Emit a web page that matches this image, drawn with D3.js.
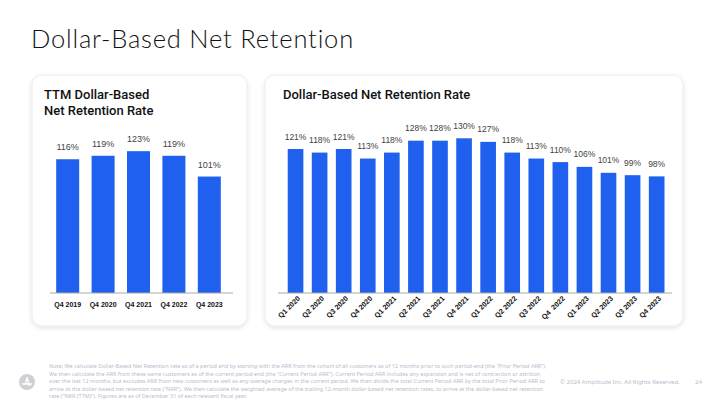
<!DOCTYPE html>
<html><head><meta charset="utf-8">
<script src="https://cdn.jsdelivr.net/npm/d3@7"></script>
<style>
html,body{margin:0;padding:0;background:#fff;}
svg{display:block;}
</style></head>
<body>
<svg id="c" width="720" height="405"></svg>
<script>
// ---- data ----
const ttmCategories = ["Q4 2019","Q4 2020","Q4 2021","Q4 2022","Q4 2023"];
const ttmValues = [116,119,123,119,101];
const qCategories = ["Q1 2020","Q2 2020","Q3 2020","Q4 2020","Q1 2021","Q2 2021","Q3 2021","Q4 2021","Q1 2022","Q2 2022","Q3 2022","Q4  2022","Q1 2023","Q2 2023","Q3 2023","Q4 2023"];
const qValues = [121,118,121,113,118,128,128,130,127,118,113,110,106,101,99,98];
const footnoteLines = [
 "Note: We calculate Dollar-Based Net Retention rate as of a period end by starting with the ARR from the cohort of all customers as of 12 months prior to such period-end (the \u201cPrior Period ARR\u201d).",
 "We then calculate the ARR from these same customers as of the current period-end (the \u201cCurrent Period ARR\u201d). Current Period ARR includes any expansion and is net of contraction or attrition",
 "over the last 12 months, but excludes ARR from new customers as well as any overage charges in the current period. We then divide the total Current Period ARR by the total Prior Period ARR to",
 "arrive at the dollar-based net retention rate (\u201cNRR\u201d). We then calculate the weighted average of the trailing 12-month dollar-based net retention rates, to arrive at the dollar-based net retention",
 "rate (\u201cNRR (TTM)\u201d). Figures are as of December 31 of each relevant fiscal year."
];

const svg = d3.select("#c");
const BLUE = "#1f61ee";

const defs = svg.append("defs");
const f = defs.append("filter").attr("id","sh").attr("x","-10%").attr("y","-10%").attr("width","120%").attr("height","120%");
f.append("feDropShadow").attr("dx",0).attr("dy",1.5).attr("stdDeviation",2).attr("flood-color","#000").attr("flood-opacity",0.12);

// title
svg.append("text").attr("x",31).attr("y",48)
  .attr("font-family","Lato, 'Open Sans', sans-serif").attr("font-weight",300)
  .attr("font-size",25.5).attr("letter-spacing",0.8).attr("fill","#111").text("Dollar-Based Net Retention");

// cards
svg.append("rect").attr("x",32).attr("y",75).attr("width",215).attr("height",251).attr("rx",10)
  .attr("fill","#fff").attr("stroke","#ececf2").attr("filter","url(#sh)");
svg.append("rect").attr("x",265).attr("y",75).attr("width",418).attr("height",251).attr("rx",10)
  .attr("fill","#fff").attr("stroke","#ececf2").attr("filter","url(#sh)");

const titleFont = "Roboto, 'Noto Sans', sans-serif";
svg.append("text").attr("x",44).attr("y",99).attr("font-family",titleFont).attr("font-weight",500)
  .attr("font-size",13).attr("fill","#111").text("TTM Dollar-Based");
svg.append("text").attr("x",44).attr("y",115).attr("font-family",titleFont).attr("font-weight",500)
  .attr("font-size",13).attr("fill","#111").text("Net Retention Rate");
svg.append("text").attr("x",283).attr("y",99).attr("font-family",titleFont).attr("font-weight",500)
  .attr("font-size",13).attr("fill","#111").text("Dollar-Based Net Retention Rate");

const lblFont = "'Liberation Sans', Arial, sans-serif";

// ---- left chart ----
const x1 = d3.scaleBand().domain(ttmCategories).range([50,227]).paddingInner(0.35).paddingOuter(0.175);
const y1 = d3.scaleLinear().domain([0,140]).range([293, 293-140*1.153]);
const g1 = svg.append("g");
g1.selectAll("rect.b").data(ttmValues).join("rect").attr("class","b")
  .attr("x",(d,i)=>x1(ttmCategories[i])).attr("width",x1.bandwidth())
  .attr("y",d=>y1(d)).attr("height",d=>y1(0)-y1(d)).attr("fill",BLUE);
g1.selectAll("text.v").data(ttmValues).join("text").attr("class","v")
  .attr("x",(d,i)=>x1(ttmCategories[i])+x1.bandwidth()/2).attr("y",d=>y1(d)-9)
  .attr("text-anchor","middle").attr("font-family",lblFont).attr("font-size",9).attr("fill","#444")
  .text(d=>d+"%");
const ax1 = g1.append("g").attr("transform","translate(0,293)")
  .call(d3.axisBottom(x1).tickSize(0).tickPadding(9));
ax1.select(".domain").attr("d","M50,0H233").attr("stroke","#aaa");
ax1.selectAll("text").attr("font-family",lblFont).attr("font-weight","bold").attr("font-size",7).attr("fill","#111");

// ---- right chart ----
const x2 = d3.scaleBand().domain(qCategories).range([283.5,668.7]).paddingInner(0.35).paddingOuter(0.175);
const y2 = d3.scaleLinear().domain([0,140]).range([293, 293-140*1.19]);
const g2 = svg.append("g");
g2.selectAll("rect.b").data(qValues).join("rect").attr("class","b")
  .attr("x",(d,i)=>x2(qCategories[i])).attr("width",x2.bandwidth())
  .attr("y",d=>y2(d)).attr("height",d=>y2(0)-y2(d)).attr("fill",BLUE);
g2.selectAll("text.v").data(qValues).join("text").attr("class","v")
  .attr("x",(d,i)=>x2(qCategories[i])+x2.bandwidth()/2).attr("y",d=>y2(d)-9.5)
  .attr("text-anchor","middle").attr("font-family",lblFont).attr("font-size",8.5).attr("fill","#444")
  .text(d=>d+"%");
const ax2 = g2.append("g").attr("transform","translate(0,293)")
  .call(d3.axisBottom(x2).tickSize(0).tickPadding(0));
ax2.select(".domain").attr("d","M278,0H672").attr("stroke","#aaa");
ax2.selectAll(".tick text").attr("font-family",lblFont).attr("font-weight","bold").attr("font-size",7.2).attr("fill","#111")
  .attr("text-anchor","end").attr("y",0).attr("dy",0)
  .attr("style","white-space:pre")
  .attr("transform","translate(5,6) rotate(-45)");

// ---- footnote ----
const fn = svg.append("g");
fn.selectAll("text").data(footnoteLines).join("text")
  .attr("x",49).attr("y",(d,i)=>368+i*7.6)
  .attr("font-family","'Noto Sans', sans-serif").attr("font-size",5.5).attr("fill","#b9bdcc")
  .text(d=>d);
svg.append("text").attr("x",560).attr("y",384).attr("font-family","'Noto Sans', sans-serif")
  .attr("font-size",6).attr("fill","#b9bdcc").text("\u00a9 2024 Amplitude Inc.  All Rights Reserved.");
svg.append("text").attr("x",695).attr("y",384).attr("font-family","'Noto Sans', sans-serif")
  .attr("font-size",6).attr("fill","#b9bdcc").text("24");

// logo
const lg = svg.append("g").attr("transform","translate(27,382)");
lg.append("circle").attr("r",8).attr("fill","#cfd0d6");
lg.append("path").attr("d","M-5,2 H-1.5 L0,-4.5 L2.5,4 M-1.5,2 H5").attr("fill","none").attr("stroke","#fff").attr("stroke-width",1.3).attr("stroke-linejoin","round");
</script>
</body></html>
